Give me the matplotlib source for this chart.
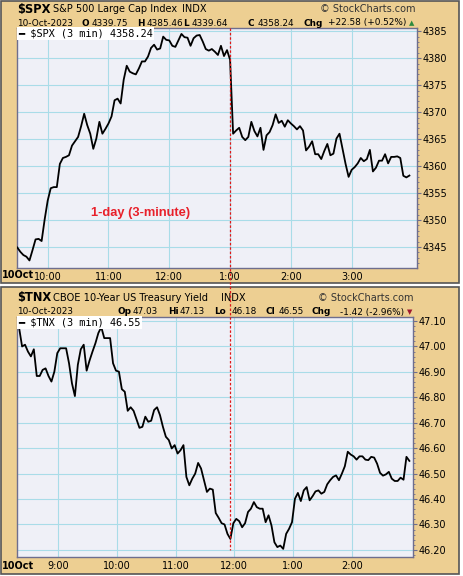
import matplotlib.pyplot as plt
import numpy as np
from matplotlib.patches import Rectangle
from matplotlib.lines import Line2D
from matplotlib.ticker import MultipleLocator

W, H = 463, 576

# 3-minute closes
spx_close = [4344.9, 4344.1, 4343.5, 4343.2, 4342.5, 4344.4, 4346.4, 4346.5, 4346.1, 4350.1,
             4353.6, 4355.9, 4356.1, 4356.1, 4360.4, 4361.5, 4361.7, 4362.0, 4363.8, 4364.6,
             4365.4, 4367.4, 4369.7, 4367.6, 4366.0, 4363.2, 4365.1, 4368.2, 4366.0, 4366.9,
             4367.9, 4369.2, 4372.2, 4372.5, 4371.6, 4376.0, 4378.6, 4377.5, 4377.2, 4377.0,
             4378.1, 4379.4, 4379.4, 4380.3, 4381.9, 4382.5,
             4381.6, 4381.8, 4384.0, 4383.4, 4383.3, 4382.3, 4382.1, 4383.3, 4384.5, 4383.9,
             4383.8, 4382.3, 4383.7, 4384.2, 4384.3, 4383.1, 4381.7, 4381.4, 4381.7, 4381.2,
             4380.6, 4382.3, 4380.4, 4381.5, 4379.7, 4366.0, 4366.6, 4367.1, 4365.4, 4364.8,
             4365.4, 4368.2, 4366.5, 4365.5, 4367.1, 4363.0, 4365.7, 4366.3, 4367.6, 4369.6,
             4368.0,
             4368.4, 4367.3, 4368.5, 4367.9, 4367.4, 4366.8, 4367.4, 4366.6, 4362.9, 4363.6,
             4364.6, 4362.2, 4362.2, 4361.3, 4362.8, 4364.1, 4362.0, 4362.3, 4365.1, 4366.0,
             4363.2, 4360.4, 4358.0, 4359.3, 4359.8, 4360.5, 4361.5, 4360.9, 4361.3, 4363.0,
             4359.0, 4359.7, 4361.0, 4361.0, 4362.2, 4360.5, 4361.7, 4361.7, 4361.8, 4361.5,
             4358.2, 4357.9, 4358.24]

tnx_close = [47.072, 47.000, 47.007, 46.980, 46.961, 46.989, 46.884, 46.884, 46.908, 46.914,
             46.884, 46.862, 46.901, 46.974, 46.993, 46.993, 46.993, 46.934, 46.855, 46.805,
             46.928, 46.989, 47.007, 46.905, 46.945, 46.980, 47.013, 47.053, 47.076, 47.033,
             47.033, 47.033, 46.934, 46.905, 46.901, 46.832, 46.822, 46.747, 46.761, 46.747,
             46.713, 46.680, 46.684, 46.724, 46.704, 46.708,
             46.750, 46.761, 46.730, 46.684, 46.645, 46.632, 46.599, 46.612, 46.579, 46.592,
             46.612, 46.487, 46.454, 46.480, 46.500, 46.542, 46.520, 46.474, 46.428, 46.441,
             46.437, 46.345, 46.326, 46.305, 46.300, 46.263, 46.243, 46.305, 46.322, 46.313,
             46.289, 46.305, 46.349, 46.362, 46.388, 46.368, 46.362, 46.362, 46.309, 46.336,
             46.296, 46.230, 46.211,
             46.217, 46.204, 46.263, 46.283, 46.309, 46.401, 46.424, 46.392, 46.434, 46.447,
             46.395, 46.411, 46.430, 46.434, 46.421, 46.428, 46.458, 46.474, 46.487, 46.493,
             46.474, 46.500, 46.529, 46.586, 46.575, 46.568, 46.555, 46.568, 46.568, 46.555,
             46.553, 46.566, 46.563, 46.539, 46.503, 46.492, 46.497, 46.507, 46.480, 46.471,
             46.471, 46.484, 46.476, 46.566, 46.55]

spx_start = 9 * 60 + 30   # minutes after midnight
tnx_start = 8 * 60 + 20
bar_minutes = 3

spx_yticks = [4345, 4350, 4355, 4360, 4365, 4370, 4375, 4380, 4385]
tnx_yticks = [46.20, 46.30, 46.40, 46.50, 46.60, 46.70, 46.80, 46.90, 47.00, 47.10]
spx_xticks = [600, 660, 720, 780, 840, 900]
spx_xlabels = ['10:00', '11:00', '12:00', '1:00', '2:00', '3:00']
tnx_xticks = [540, 600, 660, 720, 780, 840]
tnx_xlabels = ['9:00', '10:00', '11:00', '12:00', '1:00', '2:00']

TAN = '#EDCF92'
PLOT_BG = '#EFF0F7'
GRID = '#A9DCE8'
FRAME = '#6E6E8E'

spx_t = spx_start + bar_minutes * np.arange(len(spx_close))
tnx_t = tnx_start + bar_minutes * np.arange(len(tnx_close))


def fx(x):
    return x / W


def fy(y):
    return 1 - y / H


def panel(rect, t, vals, xlim, ylim, yticks, yfmt, minor, xticks, xlabels, legend):
    ax = fig.add_axes(rect)
    ax.set_facecolor(PLOT_BG)
    ax.plot(t, vals, color='black', lw=1.3, zorder=3)
    ax.set_xlim(*xlim)
    ax.set_ylim(*ylim)
    ax.yaxis.tick_right()
    ax.set_yticks(yticks)
    ax.set_yticklabels([yfmt.format(v) for v in yticks])
    ax.yaxis.set_minor_locator(MultipleLocator(minor))
    ax.set_xticks(xticks)
    ax.set_xticklabels(xlabels)
    ax.tick_params(axis='y', which='major', length=3, width=0.8, color=FRAME, pad=1, labelsize=7)
    ax.tick_params(axis='y', which='minor', length=1.5, width=0.6, color=FRAME)
    ax.tick_params(axis='x', length=0, pad=3, labelsize=7)
    ax.grid(True, color=GRID, lw=0.8)
    for s in ax.spines.values():
        s.set_color(FRAME)
        s.set_linewidth(1.0)
    ax.text(0.003, 0.997, legend, transform=ax.transAxes, ha='left', va='top', fontsize=7.4,
            family='DejaVu Sans Mono',
            bbox=dict(facecolor='white', edgecolor='none', pad=1.0), zorder=5)
    return ax


fig = plt.figure(figsize=(W / 100, H / 100), dpi=100, facecolor='white')

# tan panel boxes (behind the axes)
for y0, y1 in [(1, 283), (287, 574)]:
    fig.patches.append(Rectangle((fx(1), fy(y1)), fx(458), (y1 - y0) / H,
                                 transform=fig.transFigure, facecolor=TAN,
                                 edgecolor='#555555', lw=1.2, zorder=-10))

ax1 = panel([fx(17), fy(268), 400 / W, 240 / H], spx_t, spx_close, (569.7, 964.5),
            (4341.1, 4385.6), spx_yticks, '{:.0f}', 1, spx_xticks, spx_xlabels,
            '\u2501 $SPX (3 min) 4358.24')
ax1.text(0.31, 0.23, '1-day (3-minute)', transform=ax1.transAxes, ha='center', va='center',
         color='#E8202A', fontsize=9.3, fontweight='bold', family='Liberation Sans')

ax2 = panel([fx(17), fy(557), 396 / W, 240 / H], tnx_t, tnx_close, (497.8, 902.7),
            (46.172, 47.116), tnx_yticks, '{:.2f}', 0.02, tnx_xticks, tnx_xlabels,
            '\u2501 $TNX (3 min) 46.55')

# date stamp at the left of the time axis
fig.text(fx(2), fy(275), '10Oct', fontsize=7, fontweight='bold', va='center')
fig.text(fx(2), fy(566), '10Oct', fontsize=7, fontweight='bold', va='center')


def header(y, parts, size):
    for x, s, bold in parts:
        fig.text(fx(x), fy(y), s, fontsize=size, va='center',
                 fontweight='bold' if bold else 'normal')


# top panel header
fig.text(fx(17), fy(9), '$SPX', fontsize=8.3, fontweight='bold', va='center')
header(9, [(53, 'S&P 500 Large Cap Index', False), (182, 'INDX', False)], 7.0)
fig.text(fx(416), fy(9), '\u00a9 StockCharts.com', fontsize=7, va='center', ha='right', color='#333333')
header(23, [(17, '10-Oct-2023', False), (81, 'O', True), (92, '4339.75', False),
            (137, 'H', True), (147, '4385.46', False), (183, 'L', True),
            (192, '4339.64', False), (247, 'C', True), (258, '4358.24', False),
            (303, 'Chg', True), (328, '+22.58 (+0.52%)', False)], 6.4)
fig.text(fx(412), fy(23), '\u25b2', fontsize=5, color='#2E8B3E', va='center', ha='center')

# bottom panel header
fig.text(fx(17), fy(298), '$TNX', fontsize=8.3, fontweight='bold', va='center')
header(298, [(53, 'CBOE 10-Year US Treasury Yield', False), (221, 'INDX', False)], 7.1)
fig.text(fx(413), fy(298), '\u00a9 StockCharts.com', fontsize=7, va='center', ha='right', color='#333333')
header(312, [(17, '10-Oct-2023', False), (118, 'Op', True), (133, '47.03', False),
             (168, 'Hi', True), (180, '47.13', False), (214, 'Lo', True),
             (232, '46.18', False), (266, 'Cl', True), (279, '46.55', False),
             (312, 'Chg', True), (340, '-1.42 (-2.96%)', False)], 6.4)
fig.text(fx(410), fy(312), '\u25bc', fontsize=5, color='#A0182E', va='center', ha='center')

# red dashed marker at 1:00 running through both panels
xpix = ax1.transData.transform((780, 0))[0]
fig.lines.append(Line2D([xpix / W, xpix / W], [fy(28), fy(550)], transform=fig.transFigure,
                        color='#E01818', lw=0.9, ls=(0, (2, 1.5)), zorder=10))

fig.savefig('out.png', dpi=100, facecolor=fig.get_facecolor())
